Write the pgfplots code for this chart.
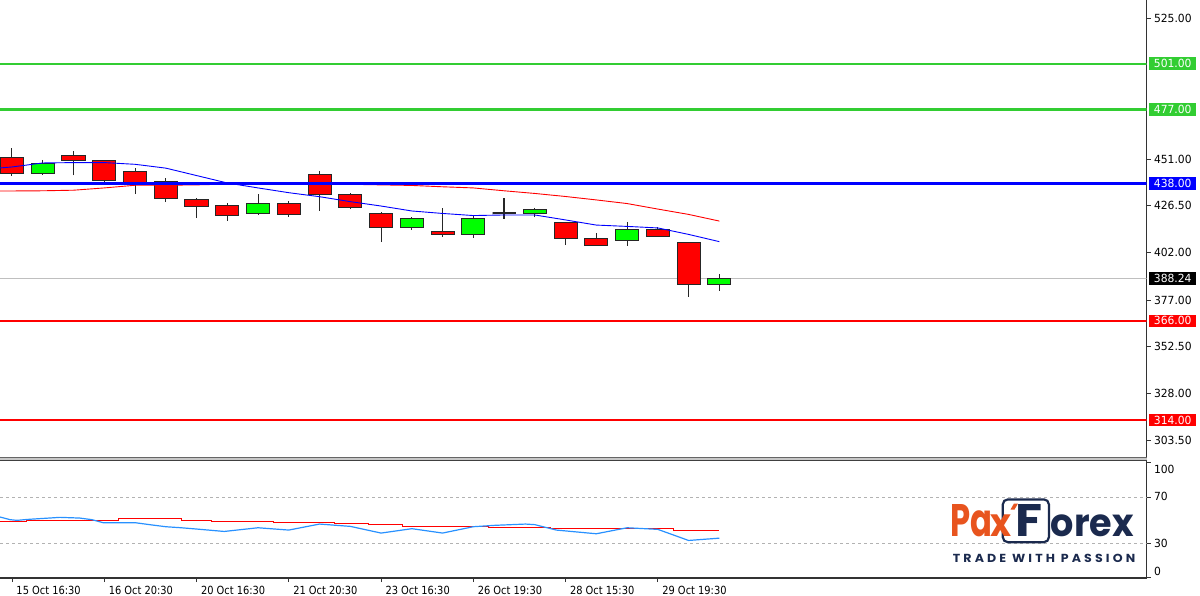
\documentclass[border=0pt]{standalone}
\usepackage{pgfplots}
\pgfplotsset{compat=1.18}
\usepackage{pgfplotstable}
\usepgfplotslibrary{statistics}
\usepackage{fontspec}
\newfontfamily\tahoma{DejaVu Sans}[FakeStretch=0.96]
\newfontfamily\tahomax{DejaVu Sans}[FakeStretch=0.88]
\newfontfamily\logofont{Poppins}
\definecolor{lvlgreen}{RGB}{50,205,50}
\definecolor{candgreen}{RGB}{0,255,0}
\definecolor{candred}{RGB}{255,0,0}
\definecolor{lvlblue}{RGB}{0,0,255}
\definecolor{rsiblue}{RGB}{40,145,255}
\definecolor{paxorange}{RGB}{232,84,30}
\definecolor{paxnavy}{RGB}{27,42,78}

% candle data: index, low, body low, body high, high
\pgfplotstableread{
idx lo blo bhi hi
0 442.1 443.5 451.7 456.6
1 442.6 443.5 448.7 450.5
2 442.4 450.1 452.7 455.3
3 438.2 439.6 450.3 450.3
4 432.5 438.9 444.5 446.1
5 428.3 430.4 439.1 440.9
6 419.9 426.3 429.5 430.4
7 418.6 421.2 426.5 427.7
8 421.6 422.5 427.7 432.6
9 420.7 422.0 427.5 428.9
10 423.8 432.6 442.6 444.7
11 424.7 425.6 432.5 432.9
12 407.3 414.9 422.5 423.0
13 413.7 414.9 419.9 420.4
14 410.2 411.5 413.0 425.1
15 409.7 411.5 419.9 421.2
16 419.5 422.5 422.5 430.4
17 420.4 422.5 424.6 425.4
18 405.8 409.4 417.5 418.0
19 405.8 405.8 409.4 412.0
20 405.5 408.1 414.1 418.0
21 410.2 410.2 414.1 415.1
22 378.7 385.2 407.1 407.1
23 381.7 385.2 388.24 390.5
}\candles

% one candle = one prepared box plot read from row #1 of \candles
\newcommand\drawcandle[3]{%
  \pgfplotstablegetelem{#1}{lo}\of\candles\let\candlo\pgfplotsretval
  \pgfplotstablegetelem{#1}{blo}\of\candles\let\candblo\pgfplotsretval
  \pgfplotstablegetelem{#1}{bhi}\of\candles\let\candbhi\pgfplotsretval
  \pgfplotstablegetelem{#1}{hi}\of\candles\let\candhi\pgfplotsretval
  \edef\candtemp{\noexpand\addplot[draw=black!85, fill=#2, line width=#3,
    boxplot prepared={draw position=#1, lower whisker=\candlo,
      lower quartile=\candblo, median=\candblo,
      upper quartile=\candbhi, upper whisker=\candhi}] coordinates {};}%
  \candtemp
}

\pgfplotsset{
  tl/.style={font=\tahoma\fontsize{11.2}{13}\selectfont, text=black},
  tlx/.style={font=\tahomax\fontsize{11.2}{13}\selectfont, text=black},
}

\begin{document}
\begin{tikzpicture}[x=1pt,y=1pt]
\path[use as bounding box] (0,0) rectangle (1200,595);

% ---------------- main price panel ----------------
\begin{axis}[
  at={(0pt,137pt)}, anchor=south west,
  scale only axis, width=1146.5pt, height=458pt,
  xmin=-0.39, xmax=36.89, ymin=294.03, ymax=534.45,
  axis x line=none, axis y line*=right,
  ytick={303.5,328,352.5,377,402,426.5,451,525},
  yticklabels={303.50,328.00,352.50,377.00,402.00,426.50,451.00,525.00},
  tick align=outside, major tick length=4pt,
  tick style={black!80, line width=0.8pt},
  axis line style={black!80, line width=1.2pt},
  yticklabel style={tl},
  boxplot/draw direction=y,
  boxplot/box extend=0.75, boxplot/whisker extend=0,
]
\addplot[black!25, line width=1pt] coordinates {(-0.39,388.24) (36.89,388.24)};

\pgfplotsinvokeforeach{0,2,3,4,5,6,7,9,10,11,12,14,18,19,21,22}{
  \drawcandle{#1}{candred}{1pt}
}
\pgfplotsinvokeforeach{1,8,13,15,17,20,23}{
  \drawcandle{#1}{candgreen}{1pt}
}
\drawcandle{16}{black}{1.6pt}

% moving averages
\addplot[lvlblue, line width=0.9pt] coordinates {
(-0.39,446.3) (0,446.8) (1,448.9) (2,449.1) (3,449.1) (4,448.2) (5,446.2)
(6,442.3) (7,438.4) (8,435.8) (9,433.3) (10,431.2) (11,428.6) (12,426.3)
(13,423.7) (14,422.4) (15,421.3) (16,421.6) (17,421.6) (18,419.0) (19,416.3)
(20,415.6) (21,414.8) (22,411.4) (23,407.6)};
\addplot[candred, line width=0.9pt] coordinates {
(-0.39,434.2) (0,434.2) (1,434.3) (2,434.6) (3,435.8) (4,437.2) (5,437.2)
(6,437.4) (7,437.8) (8,437.8) (9,437.8) (10,437.8) (11,437.7) (12,437.4)
(13,437.1) (14,436.4) (15,435.8) (16,434.3) (17,432.9) (18,431.3) (19,429.5)
(20,427.6) (21,424.7) (22,421.9) (23,418.4)};

% horizontal levels
\addplot[lvlgreen, line width=2.2pt] coordinates {(-0.39,501) (36.89,501)};
\addplot[lvlgreen, line width=2.2pt] coordinates {(-0.39,477) (36.89,477)};
\addplot[lvlblue, line width=3pt] coordinates {(-0.39,438) (36.89,438)};
\addplot[candred, line width=2.7pt] coordinates {(-0.39,366) (36.89,366)};
\addplot[candred, line width=2.7pt] coordinates {(-0.39,314) (36.89,314)};

\coordinate (L501) at (axis cs:36.89,501);
\coordinate (L477) at (axis cs:36.89,477);
\coordinate (L438) at (axis cs:36.89,438);
\coordinate (L388) at (axis cs:36.89,388.24);
\coordinate (L366) at (axis cs:36.89,366);
\coordinate (L314) at (axis cs:36.89,314);
\end{axis}

% ---------------- lower oscillator panel ----------------
\begin{axis}[
  at={(0pt,17pt)}, anchor=south west,
  scale only axis, width=1146.5pt, height=117pt,
  xmin=-0.39, xmax=36.89, ymin=-0.2, ymax=101.1,
  axis x line*=bottom, axis y line*=right,
  xtick={0,3,6,9,12,15,18,21},
  xticklabels={15 Oct 16:30,16 Oct 20:30,20 Oct 16:30,21 Oct 20:30,23 Oct 16:30,26 Oct 19:30,28 Oct 15:30,29 Oct 19:30},
  ytick={0,30,70,100},
  yticklabels={\smash{\raisebox{2.1pt}{0}},30,70,\smash{\raisebox{-11.2pt}{100}}},
  tick align=outside, major tick length=4pt,
  tick style={black!80, line width=0.8pt},
  axis line style={black!80, line width=1.2pt},
  yticklabel style={tl},
  xticklabel style={tlx, anchor=north west, inner sep=0pt, xshift=4.3pt, yshift=-3.7pt},
]
\addplot[black!30, line width=0.8pt, dash pattern=on 3pt off 3pt] coordinates {(-0.39,70) (36.89,70)};
\addplot[black!30, line width=0.8pt, dash pattern=on 3pt off 3pt] coordinates {(-0.39,30) (36.89,30)};
\addplot[candred, line width=1pt, const plot] coordinates {
(-0.39,48.4) (0.48,49.9) (3.46,51.0) (5.5,49.8) (6.5,48.8) (8.5,48.0)
(10.5,47.4) (11.6,46.2) (12.7,44.8) (13.5,44.2) (15.5,43.3) (17.5,42.5)
(21.5,41.3) (23,41.3)};
\addplot[rsiblue, line width=1.2pt] coordinates {
(-0.39,52.6) (-0.06,50.3) (0.16,49.7) (0.49,50.5) (1.56,52.3) (2.2,51.7)
(2.6,50.3) (2.96,47.7) (4.0,47.7) (4.5,45.9) (5,44.2) (5.5,43.3) (6,42.2)
(6.9,40.1) (8,43.3) (9,41.3) (10,46.5) (11,44.5) (12,38.7) (13,42.5)
(14,38.7) (15,44.2) (15.7,45.4) (16.7,46.5) (17,46.0) (17.7,41.3) (19,38.1)
(20,43.3) (21,41.9) (22,32.3) (23,34.3)};
\end{axis}

% separator between panels
\fill[black!22] (0,134) rectangle (1146.5,137);
\draw[black!60, line width=1pt] (0,137) -- (1146.5,137);
\draw[black!75, line width=1pt] (0,134) -- (1146.5,134);

% level label boxes
\foreach \p/\c/\t in {L501/lvlgreen/501.00, L477/lvlgreen/477.00, L438/lvlblue/438.00,
                      L388/black/388.24, L366/candred/366.00, L314/candred/314.00}{
  \node[fill=\c, text=white, anchor=west, minimum width=47pt, minimum height=12.5pt,
        inner sep=0pt, font=\tahoma\fontsize{11.2}{13}\selectfont] at ([xshift=2.5pt]\p) {\t};
}

% logo
\draw[paxnavy, line width=2.2pt, rounded corners=5pt] (1002.8,52.8) rectangle (1048.9,95.6);
\node[anchor=base west, inner sep=0pt] at (950.5,58.3)
  {\color{paxorange}\resizebox{42pt}{32pt}{\logofont\bfseries Pa}};
\node[anchor=base west, inner sep=0pt] at (990.5,58.3)
  {\color{paxorange}\resizebox{21pt}{21.7pt}{\logofont\bfseries x}};
\fill[paxorange] (1010.5,85.5) -- (1014.5,85.5) -- (1018,91.5) -- (1014,91.5) -- cycle;
\node[anchor=base west, inner sep=0pt] at (1015,58.3)
  {\color{paxnavy}\resizebox{27pt}{32pt}{\logofont\bfseries F}};
\node[anchor=base west, inner sep=0pt] at (1050.5,58.3)
  {\color{paxnavy}\resizebox{83pt}{21.7pt}{\logofont\bfseries orex}};
\node[anchor=base west, inner sep=0pt] at (952.7,32.7)
  {\color{paxnavy}\resizebox{182.3pt}{8.3pt}{\logofont\bfseries\addfontfeature{LetterSpace=25}TRADE WITH PASSION}};
\end{tikzpicture}
\end{document}
